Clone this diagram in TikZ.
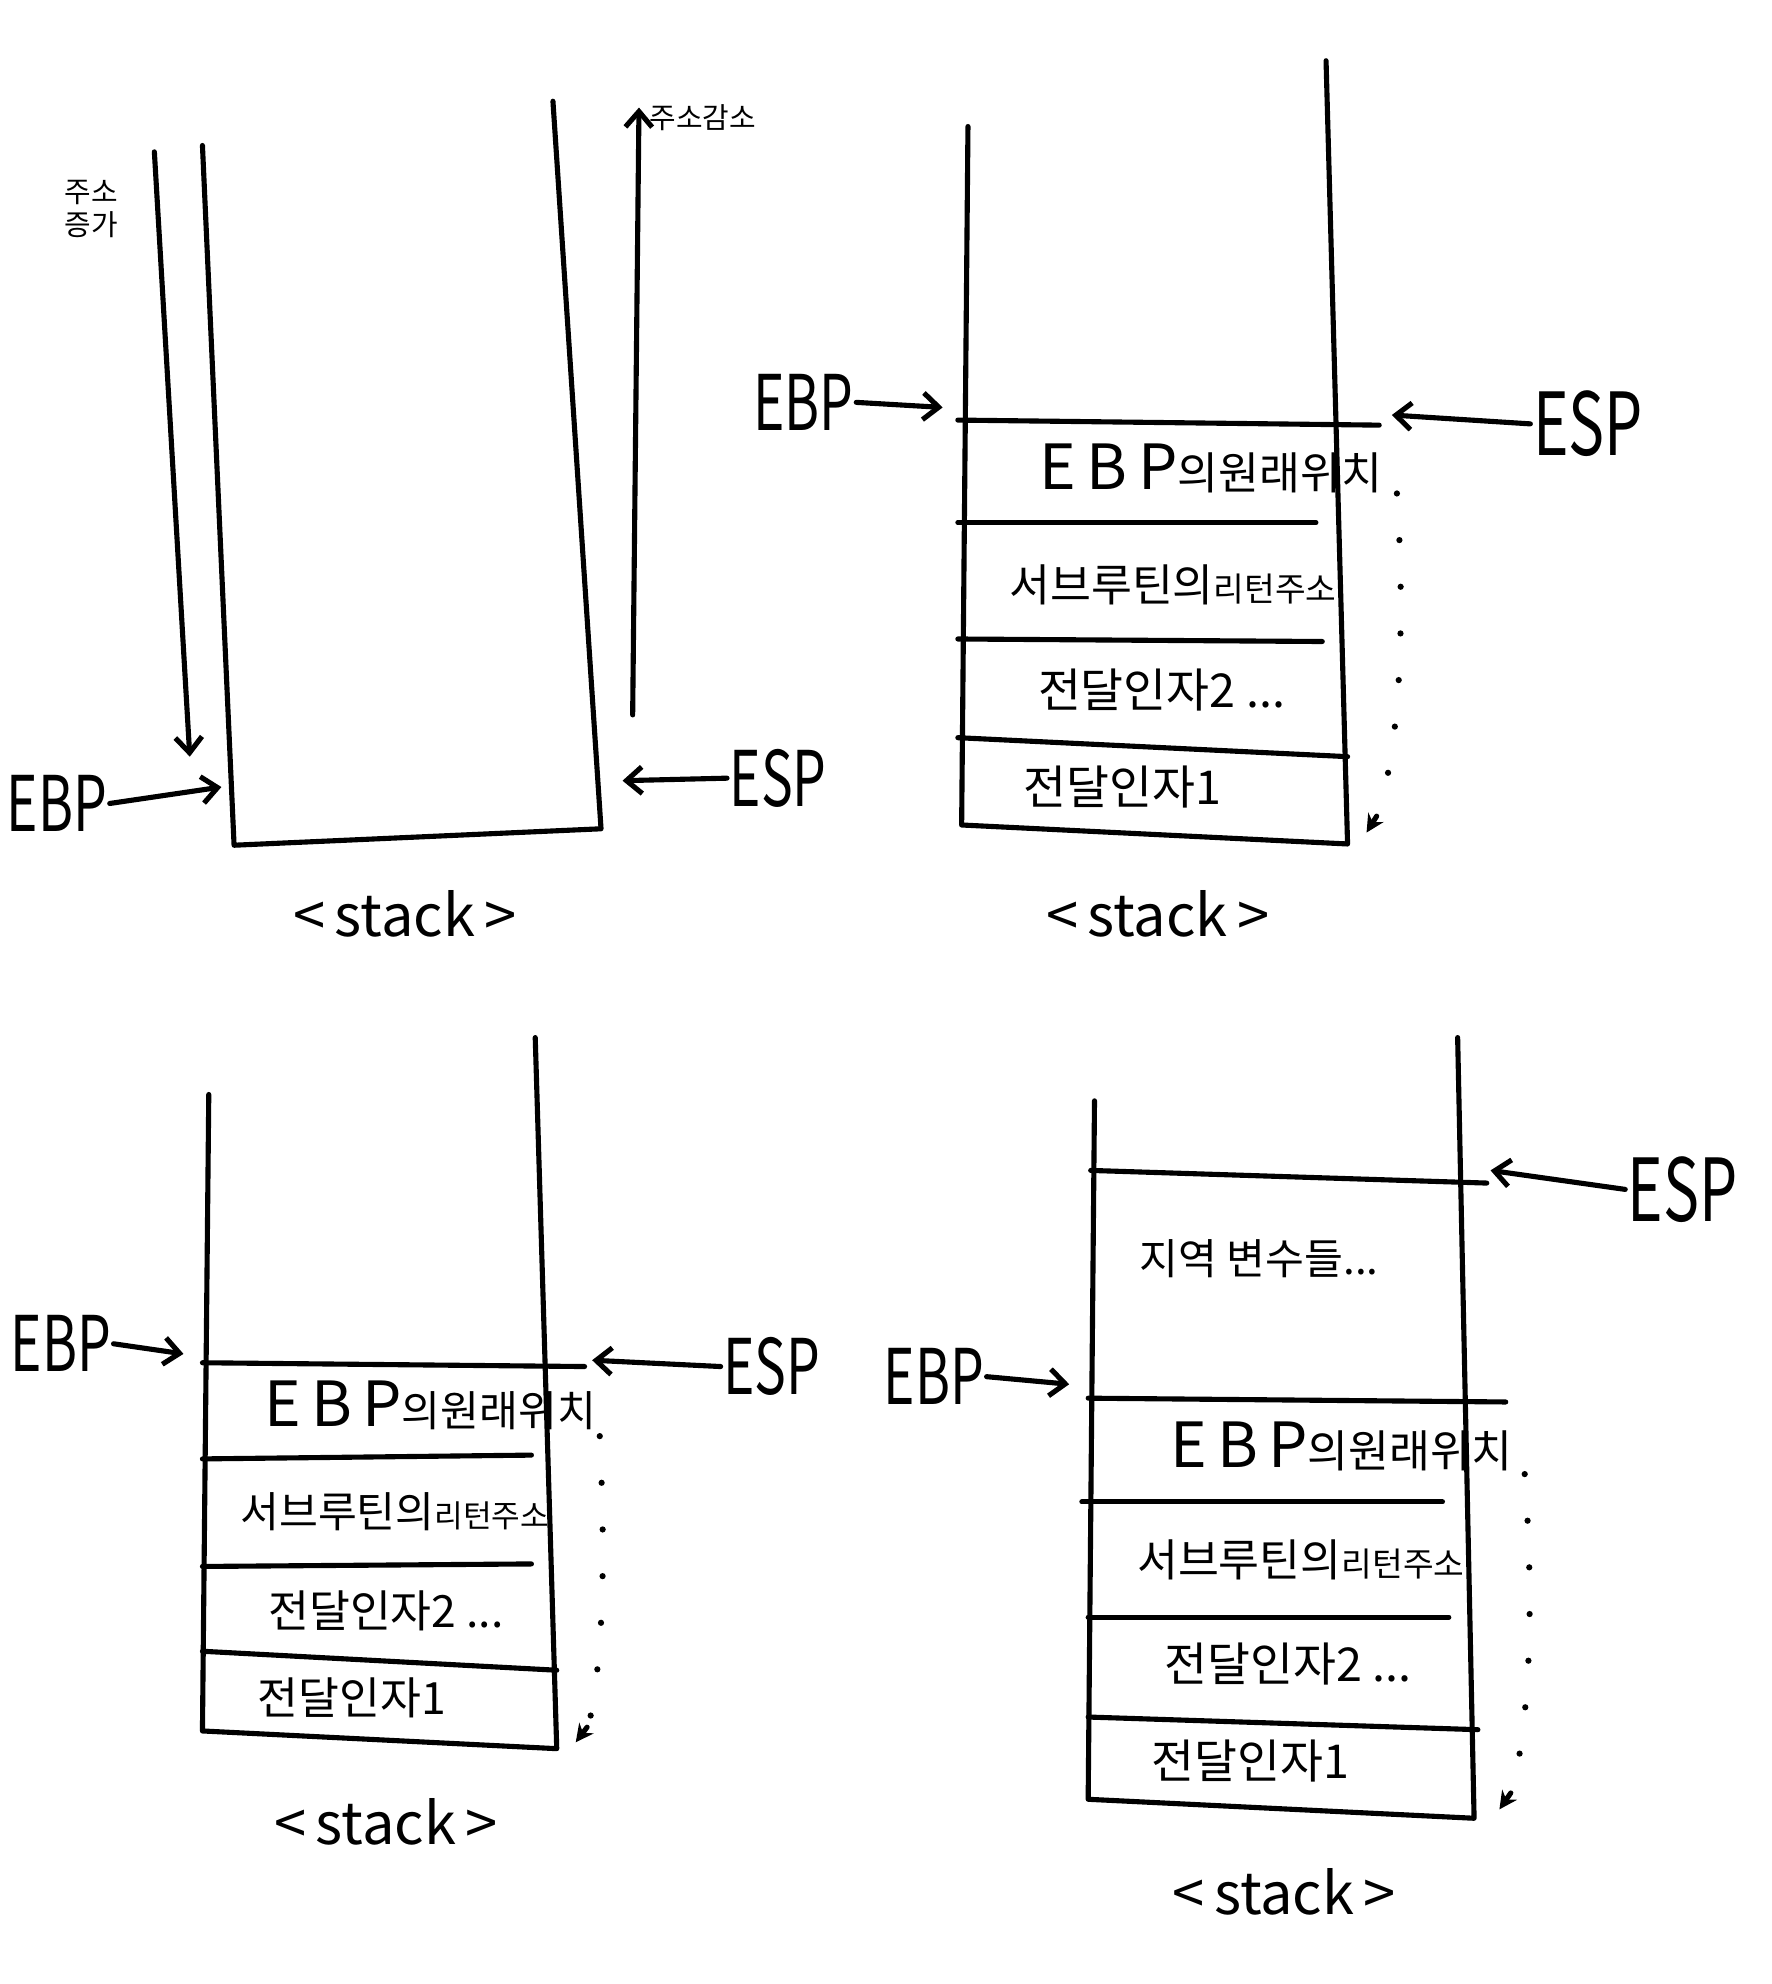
\documentclass[tikz,border=0pt]{standalone}
\usepackage{fontspec}
\setmainfont{Noto Sans CJK KR}
\usetikzlibrary{arrows.meta}
\newcommand{\fs}[1]{\fontsize{#1}{#1}\selectfont}
\newcommand{\rl}[1]{\scalebox{0.8}[1.15]{#1}}
\tikzset{
  wall/.style={line width=2.3pt, line cap=round, line join=round},
  ptr/.style={line width=2.3pt, line cap=round, -{Straight Barb[length=7pt,width=12pt,line width=2.3pt]}},
  dotline/.style={line width=2.8pt, line cap=round, dash pattern=on 0pt off 21pt},
  tip/.style={line width=2.3pt, line cap=round, -{Stealth[length=8pt,width=8pt]}},
  reg/.style={inner sep=1pt, font=\fs{30}},
  bigreg/.style={inner sep=1pt, font=\fs{34}},
  stk/.style={inner sep=1pt, font=\fs{26}},
  cell/.style={inner sep=0pt, anchor=center},
}
\begin{document}
\begin{tikzpicture}[x=0.02cm,y=-0.02cm]
\useasboundingbox (0,0) rectangle (1400,1568);
\fill[white] (0,0) rectangle (1400,1568);

% ---------------- Panel 1 ----------------
\draw[wall] (160,115) -- (185,668) -- (475,655) -- (437,80);
\coordinate (p1top) at (122,120);
\coordinate (p1bot) at (150,598);
\draw[ptr] (p1top) -- (p1bot);
\node[inner sep=0pt, align=center, font=\fs{13}] (p1inc) at (72,165) {주소\\[2pt]증가};
\coordinate (p1r0) at (500,565);
\coordinate (p1r1) at (505,85);
\draw[ptr] (p1r0) -- (p1r1);
\node[inner sep=0pt, anchor=west, font=\fs{13}] (p1dec) at (513,93) {주소감소};
\node[reg] (p1ebp) at (45,635) {\rl{EBP}};
\coordinate (p1ebpt) at (175,622);
\draw[ptr] (p1ebp.east) -- (p1ebpt);
\node[reg] (p1esp) at (615,615) {\rl{ESP}};
\coordinate (p1espt) at (492,617);
\draw[ptr] (p1esp.west) -- (p1espt);
\node[stk] (p1stk) at (320,722) {<\,stack\,>};

% ---------------- Panel 2 ----------------
\draw[wall] (765,100) -- (760,652) -- (1065,667) -- (1048,48);
\draw[wall] (757,332) -- (1090,336);
\draw[wall] (757,413) -- (1040,413);
\draw[wall] (757,505) -- (1045,507);
\draw[wall] (757,583) -- (1065,598);
\node[reg] (p2ebp) at (635,318) {\rl{EBP}};
\coordinate (p2ebpt) at (745,322);
\draw[ptr] (p2ebp.east) -- (p2ebpt);
\node[bigreg] (p2esp) at (1255,335) {\rl{ESP}};
\coordinate (p2espt) at (1100,328);
\draw[ptr] (p2esp.west) -- (p2espt);
\node[cell] (p2c1) at (957,370) {\fs{28}E\,B\,P\fs{20}의원래위치};
\node[cell] (p2c2) at (927,462) {\fs{20}서브루틴의\fs{15}리턴주소};
\node[cell] (p2c3) at (918,545) {\fs{21}전달인자2 ...};
\node[cell] (p2c4) at (887,622) {\fs{21}전달인자1};
\coordinate (p2d0) at (1104,390);
\coordinate (p2d1) at (1080,658);
\draw[dotline] (p2d0) .. controls (1110,480) and (1108,580) .. (1090,640);
\draw[tip] (1088,645) -- (p2d1);
\node[stk] (p2stk) at (915,722) {<\,stack\,>};

% ---------------- Panel 3 ----------------
\draw[wall] (165,865) -- (160,1368) -- (440,1382) -- (423,820);
\draw[wall] (160,1077) -- (462,1080);
\draw[wall] (160,1153) -- (420,1150);
\draw[wall] (160,1238) -- (420,1236);
\draw[wall] (160,1305) -- (440,1320);
\node[reg] (p3ebp) at (48,1062) {\rl{EBP}};
\coordinate (p3ebpt) at (145,1070);
\draw[ptr] (p3ebp.east) -- (p3ebpt);
\node[reg] (p3esp) at (610,1080) {\rl{ESP}};
\coordinate (p3espt) at (468,1075);
\draw[ptr] (p3esp.west) -- (p3espt);
\node[cell] (p3c1) at (340,1111) {\fs{28}E\,B\,P\fs{19}의원래위치};
\node[cell] (p3c2) at (312,1195) {\fs{19}서브루틴의\fs{14}리턴주소};
\node[cell] (p3c3) at (305,1273) {\fs{20}전달인자2 ...};
\node[cell] (p3c4) at (278,1342) {\fs{20}전달인자1};
\coordinate (p3d0) at (474,1135);
\coordinate (p3d1) at (455,1377);
\draw[dotline] (p3d0) .. controls (478,1220) and (478,1300) .. (466,1360);
\draw[tip] (464,1365) -- (p3d1);
\node[stk] (p3stk) at (305,1440) {<\,stack\,>};

% ---------------- Panel 4 ----------------
\draw[wall] (865,870) -- (860,1422) -- (1165,1437) -- (1152,820);
\draw[wall] (862,925) -- (1175,935);
\draw[wall] (860,1105) -- (1190,1108);
\draw[wall] (855,1187) -- (1140,1187);
\draw[wall] (860,1278) -- (1145,1278);
\draw[wall] (860,1357) -- (1168,1367);
\node[bigreg] (p4esp) at (1330,940) {\rl{ESP}};
\coordinate (p4espt) at (1178,925);
\draw[ptr] (p4esp.west) -- (p4espt);
\node[reg] (p4ebp) at (738,1088) {\rl{EBP}};
\coordinate (p4ebpt) at (845,1094);
\draw[ptr] (p4ebp.east) -- (p4ebpt);
\node[cell] (p4c0) at (995,995) {\fs{19}지역 변수들...};
\node[cell] (p4c1) at (1060,1143) {\fs{28}E\,B\,P\fs{20}의원래위치};
\node[cell] (p4c2) at (1028,1233) {\fs{20}서브루틴의\fs{15}리턴주소};
\node[cell] (p4c3) at (1018,1315) {\fs{21}전달인자2 ...};
\node[cell] (p4c4) at (988,1392) {\fs{21}전달인자1};
\coordinate (p4d0) at (1205,1165);
\coordinate (p4d1) at (1185,1430);
\draw[dotline] (p4d0) .. controls (1212,1260) and (1210,1350) .. (1196,1412);
\draw[tip] (1194,1417) -- (p4d1);
\node[stk] (p4stk) at (1015,1495) {<\,stack\,>};
\end{tikzpicture}
\end{document}
